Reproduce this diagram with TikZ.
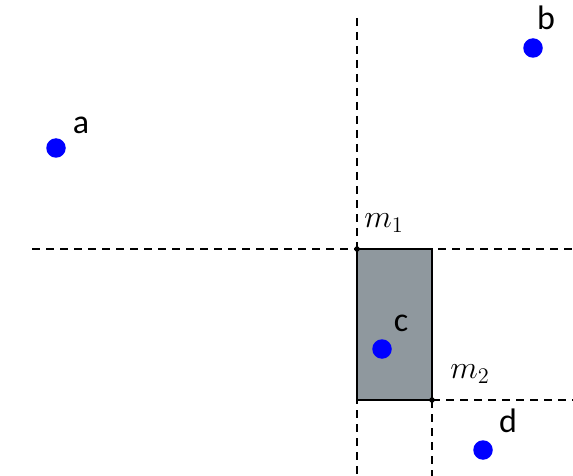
\documentclass[tikz,border=0pt]{standalone}
\usepackage{fontspec}
\setsansfont{Carlito}
\definecolor{boxgray}{RGB}{143,152,158}
\begin{document}
\begin{tikzpicture}[x=1pt,y=-1pt,
		punkt/.style={circle,fill=blue,inner sep=0pt,minimum size=19.5pt},
		ecke/.style={circle,fill=black,inner sep=0pt,minimum size=5.5pt},
		teiler/.style={dashed,dash pattern=on 8pt off 6pt,line width=1.2pt},
		marke/.style={font=\sffamily\fontsize{34}{36}\selectfont},
		mlabel/.style={font=\huge,scale=1.55}]
	\useasboundingbox (0,0) rectangle (573,476);

	% Rechteck zwischen m1 und m2
	\coordinate (m1) at (357,249);
	\coordinate (m2) at (432,400);
	\draw[fill=boxgray,line width=1.2pt] (m1) rectangle (m2);

	% Trennlinien
	\coordinate (oben) at (357,18);
	\coordinate (unten1) at (357,476);
	\coordinate (links) at (32,249);
	\coordinate (rechts1) at (573,249);
	\coordinate (unten2) at (432,476);
	\coordinate (rechts2) at (573,400);
	\draw[teiler] (oben) -- (unten1);
	\draw[teiler] (links) -- (rechts1);
	\draw[teiler] (m2) -- (unten2);
	\draw[teiler] (m2) -- (rechts2);

	\node[ecke] (e1) at (m1) {};
	\node[ecke] (e2) at (m2) {};
	\node[mlabel] (l1) at (384,223) {$m_1$};
	\node[mlabel] (l2) at (470,374) {$m_2$};

	% Punkte
	\node[punkt] (a) at (56,148) {};
	\node[punkt] (b) at (533,48) {};
	\node[punkt] (c) at (382,349) {};
	\node[punkt] (d) at (483,450) {};
	\node[marke] (ta) at (81,125) {a};
	\node[marke] (tb) at (546,18) {b};
	\node[marke] (tc) at (401,323) {c};
	\node[marke] (td) at (508,421) {d};
\end{tikzpicture}
\end{document}
